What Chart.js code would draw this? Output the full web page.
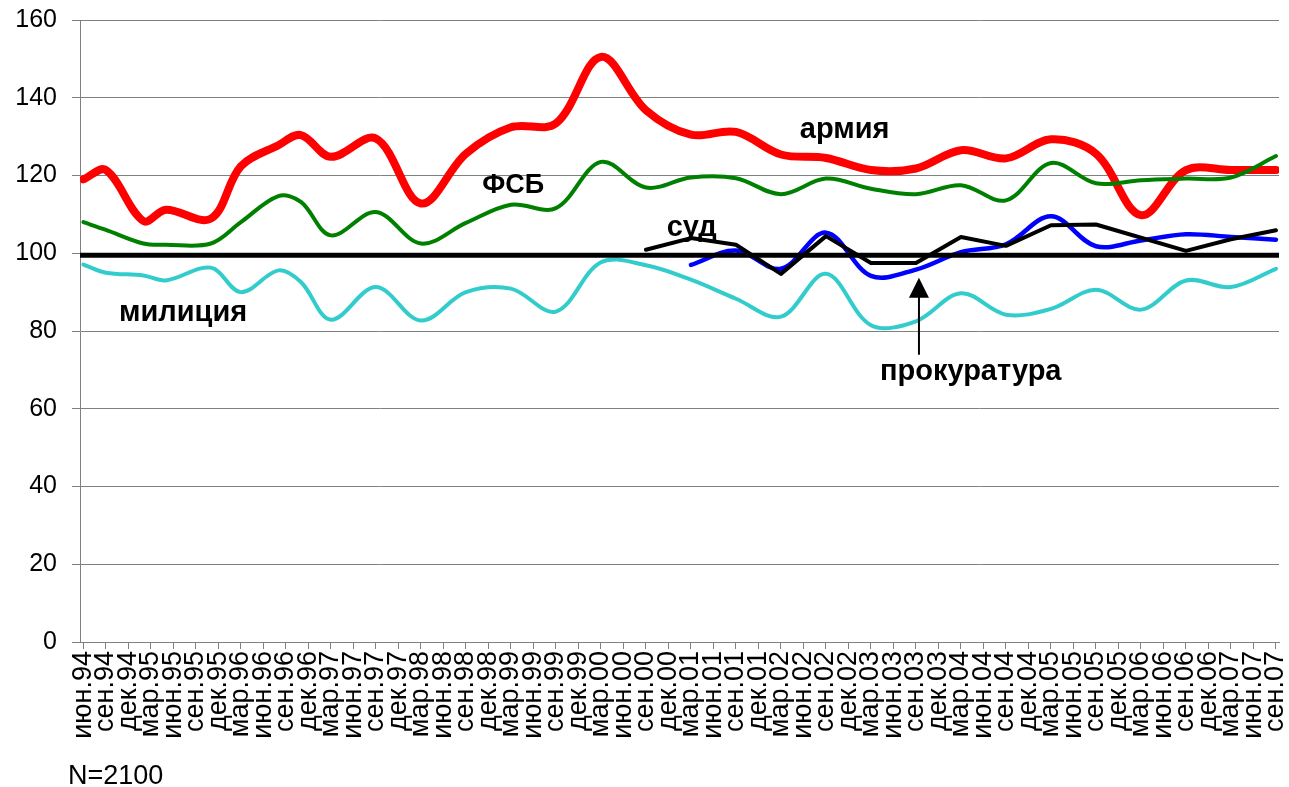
<!DOCTYPE html>
<html>
<head>
<meta charset="utf-8">
<script src="https://cdn.jsdelivr.net/npm/chart.js@4.4.0/dist/chart.umd.min.js"></script>
<style>
  html, body { margin: 0; padding: 0; background: #fff; }
  #wrap { position: relative; width: 1289px; height: 787px; }
</style>
</head>
<body>
<div id="wrap"><canvas id="chart" width="1289" height="787"></canvas></div>
<script>
// axis labels, one every 3 months (date axis, months counted from июн.94)
const TICK_LABELS = [
  'июн.94','сен.94','дек.94',
  'мар.95','июн.95','сен.95','дек.95',
  'мар.96','июн.96','сен.96','дек.96',
  'мар.97','июн.97','сен.97','дек.97',
  'мар.98','июн.98','сен.98','дек.98',
  'мар.99','июн.99','сен.99','дек.99',
  'мар.00','июн.00','сен.00','дек.00',
  'мар.01','июн.01','сен.01','дек.01',
  'мар.02','июн.02','сен.02','дек.02',
  'мар.03','июн.03','сен.03','дек.03',
  'мар.04','июн.04','сен.04','дек.04',
  'мар.05','июн.05','сен.05','дек.05',
  'мар.06','июн.06','сен.06','дек.06',
  'мар.07','июн.07','сен.07'
];

// survey dates, months after июн.94
const SURVEY_MONTHS = [0, 3, 8, 11, 17, 21, 26, 29, 33, 39, 45, 51, 57, 63, 69,
                       75, 81, 87, 93, 99, 105, 111, 117, 123, 129, 135, 141, 147, 153, 159];
const ARMY   = [119, 121.4, 108.3, 111.2, 108.9, 122.4, 127.8, 130.4, 124.8, 129.5, 112.8, 125.6, 132.4, 133.4, 150.5,
                136.8, 130.5, 131.2, 125.4, 124.5, 121.4, 121.8, 126.5, 124.4, 129.3, 125.6, 109.8, 121.4, 121.4, 121.4];
const FSB    = [108, 106, 102.5, 102.2, 102.5, 108, 114.7, 113.2, 104.6, 110.6, 102.5, 107.8, 112.5, 111.6, 123.5,
                116.9, 119.5, 119.3, 115.2, 119.2, 116.6, 115.2, 117.5, 113.6, 123.2, 118, 118.8, 119.2, 119.5, 125];
const POLICE = [97.1, 95, 94.3, 93, 96.3, 90, 95.6, 92.6, 82.9, 91.3, 82.7, 90, 90.9, 85, 97.7,
                96.9, 93.2, 88.3, 83.7, 94.7, 81.5, 82.5, 89.7, 84.2, 85.7, 90.6, 85.5, 93, 91.3, 96];

const PROSEC_MONTHS = [81, 87, 93, 99, 105, 111, 117, 123, 129, 135, 141, 147, 153, 159];
const PROSEC = [97, 100.7, 96, 105.3, 94.2, 95.8, 100.3, 102.3, 109.5, 101.8, 103.3, 104.9, 104.2, 103.5];

const COURT_MONTHS = [75, 81, 87, 93, 99, 105, 111, 117, 123, 129, 135, 147, 153, 159];
const COURT = [100.9, 103.9, 102.2, 94.7, 104.4, 97.5, 97.5, 104.2, 101.9, 107.2, 107.4, 100.6, 103.6, 105.9];

const BASE = 99.5;
const X_MIN = -0.45, X_MAX = 159.4;

const FONT = '"Liberation Sans", Arial, sans-serif';

// text notes placed in data coordinates (month, value)
const NOTES = [
  { text: 'армия',       m: 101.5, v: 131.8, size: 29 },
  { text: 'ФСБ',         m: 57.3,  v: 117.4, size: 27 },
  { text: 'суд',         m: 81.1,  v: 106.6, size: 29 },
  { text: 'милиция',     m: 13.3,  v: 84.7,  size: 29 },
  { text: 'прокуратура', m: 118.3, v: 69.5,  size: 29 }
];
const ARROW = { m: 111.4, from: 73.9, to: 93.7 };

const pts = (months, vals) => months.map((m, i) => ({ x: m, y: vals[i] }));

function line(label, months, vals, color, width, order, tension = 0.35) {
  return {
    label, data: pts(months, vals), borderColor: color, borderWidth: width,
    pointRadius: 0, tension, borderCapStyle: 'round', borderJoinStyle: 'round',
    fill: false, order
  };
}

const notesPlugin = {
  id: 'notes',
  afterDatasetsDraw(chart) {
    const { ctx, scales: { x, y } } = chart;
    ctx.save();
    ctx.fillStyle = '#000';
    ctx.textAlign = 'center';
    ctx.textBaseline = 'middle';
    NOTES.forEach(n => {
      ctx.font = `bold ${n.size}px ${FONT}`;
      ctx.fillText(n.text, x.getPixelForValue(n.m), y.getPixelForValue(n.v));
    });

    // arrow pointing up at the прокуратура line
    const ax = x.getPixelForValue(ARROW.m);
    const yTip = y.getPixelForValue(ARROW.to);
    const yEnd = y.getPixelForValue(ARROW.from);
    ctx.strokeStyle = '#000';
    ctx.lineWidth = 2;
    ctx.beginPath();
    ctx.moveTo(ax, yEnd);
    ctx.lineTo(ax, yTip + 18);
    ctx.stroke();
    ctx.beginPath();
    ctx.moveTo(ax, yTip);
    ctx.lineTo(ax - 10, yTip + 20);
    ctx.lineTo(ax + 10, yTip + 20);
    ctx.closePath();
    ctx.fill();

    ctx.font = `27px ${FONT}`;
    ctx.textAlign = 'left';
    ctx.fillText('N=2100', 68, 777);
    ctx.restore();
  }
};

new Chart(document.getElementById('chart'), {
  type: 'line',
  data: {
    datasets: [
      line('суд', COURT_MONTHS, COURT, '#000000', 4, 0, 0),
      line('100', [X_MIN, X_MAX], [BASE, BASE], '#000000', 5, 1, 0),
      line('прокуратура', PROSEC_MONTHS, PROSEC, '#0000FF', 4.5, 2),
      line('ФСБ', SURVEY_MONTHS, FSB, '#008000', 4, 3),
      line('армия', SURVEY_MONTHS, ARMY, '#FF0000', 8, 4),
      line('милиция', SURVEY_MONTHS, POLICE, '#33CCCC', 4, 5)
    ]
  },
  options: {
    responsive: false,
    animation: false,
    devicePixelRatio: 1,
    layout: { padding: { top: 20, right: 10, left: 0, bottom: 0 } },
    plugins: { legend: { display: false }, tooltip: { enabled: false } },
    scales: {
      x: {
        type: 'linear',
        min: X_MIN,
        max: X_MAX,
        afterBuildTicks: s => { s.ticks = TICK_LABELS.map((_, i) => ({ value: i * 3 })); },
        afterFit: s => { s.height = 145; s.paddingLeft = 0; s.paddingRight = 0; },
        ticks: {
          autoSkip: false, maxRotation: 90, minRotation: 90, padding: 2,
          color: '#000', font: { family: FONT, size: 27 },
          callback: v => TICK_LABELS[Math.round(v / 3)]
        },
        grid: { drawOnChartArea: false, drawTicks: true, tickLength: 7, color: '#808080' },
        border: { color: '#808080' }
      },
      y: {
        min: 0,
        max: 160,
        afterFit: s => { s.width = 80; s.paddingTop = 0; s.paddingBottom = 0; },
        ticks: { stepSize: 20, padding: 15, color: '#000', font: { family: FONT, size: 25 } },
        grid: { color: '#808080', tickLength: 8 },
        border: { color: '#808080' }
      }
    }
  },
  plugins: [notesPlugin]
});
</script>
</body>
</html>
